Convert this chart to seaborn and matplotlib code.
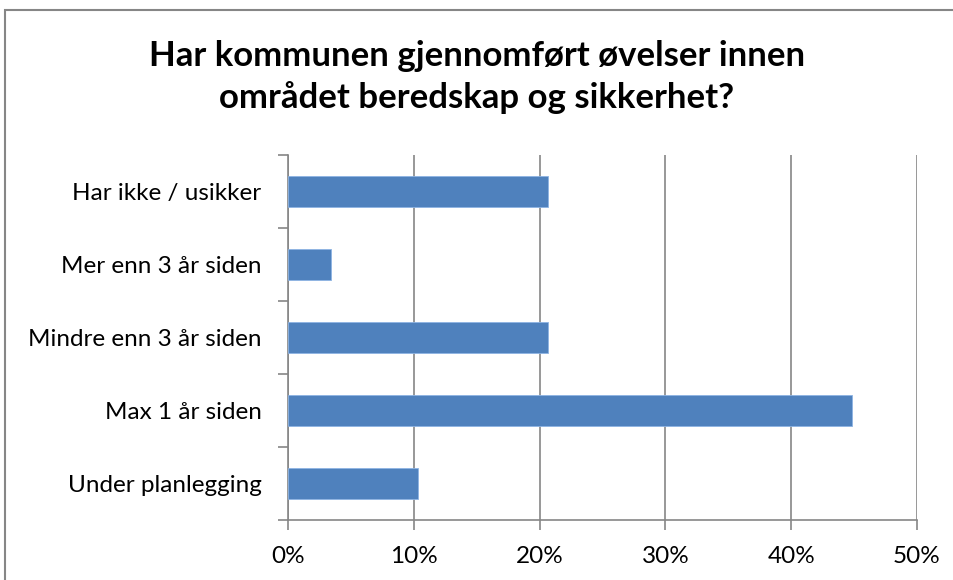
import matplotlib
matplotlib.use("Agg")
import matplotlib.pyplot as plt
import matplotlib.patches as mpatches
from matplotlib.ticker import FixedLocator, PercentFormatter
import pandas as pd
import seaborn as sns

# svar, fra topp til bunn
kategorier = ["Har ikke / usikker", "Mer enn 3 år siden", "Mindre enn 3 år siden",
              "Max 1 år siden", "Under planlegging"]
andel = [20.7, 3.4, 20.7, 44.8, 10.3]
x_ticks = [0, 10, 20, 30, 40, 50]

df = pd.DataFrame({"kategori": kategorier, "andel": andel})

sns.set_style("white")
plt.rcParams["font.family"] = ["Lato", "DejaVu Sans"]

fig = plt.figure(figsize=(9.54, 5.8), dpi=100)
ax = fig.add_axes([288 / 954, 1 - 520 / 580, (917 - 288) / 954, (520 - 155) / 580])

sns.barplot(data=df, x="andel", y="kategori", orient="h", color="#4F81BD",
            saturation=1, width=0.42, edgecolor="#8EB4E3", linewidth=0.6, ax=ax, zorder=3)

ax.set_xlim(0, 50)
ax.set_ylim(4.5, -0.5)
ax.xaxis.set_major_locator(FixedLocator(x_ticks))
ax.xaxis.set_major_formatter(PercentFormatter(decimals=0))
ax.grid(axis="x", color="#868686", linewidth=1.2, zorder=0)
ax.set_axisbelow(True)

# tick marks at category boundaries on the y axis
ax.set_yticks([i for i in range(len(kategorier))])
ax.set_yticks([i - 0.5 for i in range(len(kategorier) + 1)], minor=True)
ax.tick_params(axis="y", which="major", length=0, pad=19, labelsize=17.5, labelcolor="#000000")
ax.tick_params(axis="y", which="minor", length=7, width=1.2, color="#868686", left=True)
ax.tick_params(axis="x", which="major", length=7, width=1.2, color="#868686", bottom=True,
               pad=12, labelsize=17.5, labelcolor="#000000")

for s in ["top", "right"]:
    ax.spines[s].set_visible(False)
for s in ["left", "bottom"]:
    ax.spines[s].set_color("#868686")
    ax.spines[s].set_linewidth(1.2)

ax.set_xlabel("")
ax.set_ylabel("")

fig.text(0.5, 1 - 77 / 580,
         "Har kommunen gjennomført øvelser innen\nområdet beredskap og sikkerhet?",
         ha="center", va="center", fontsize=25, fontweight="bold", linespacing=1.35,
         color="#000000")

# outer chart border
border = mpatches.Rectangle((5 / 954, -0.1), 1.1, 1 - 10 / 580 + 0.1, transform=fig.transFigure,
                            fill=False, edgecolor="#868686", linewidth=1.5, clip_on=False)
fig.patches.append(border)

fig.savefig("out.png", dpi=100)
